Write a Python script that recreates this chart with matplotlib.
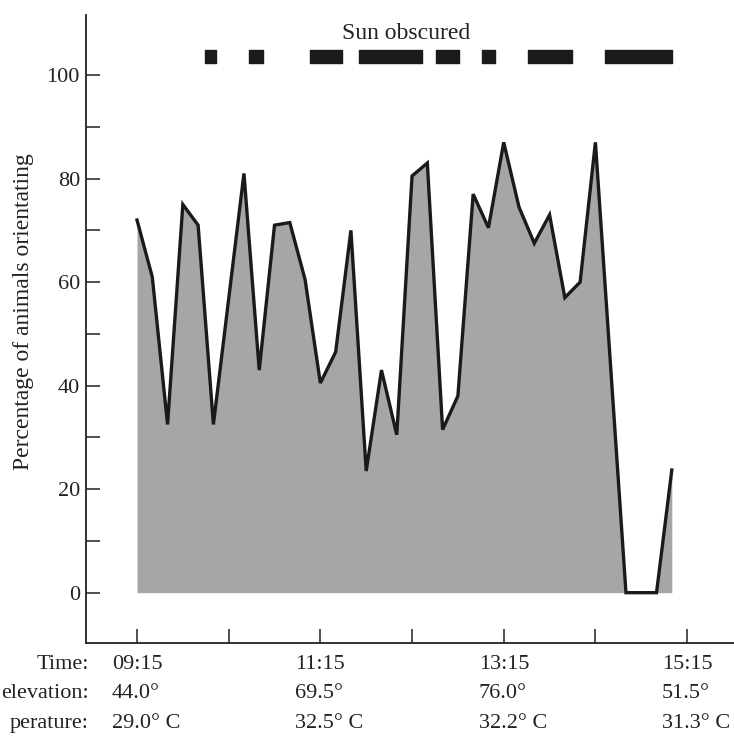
import numpy as np
import matplotlib.pyplot as plt
import matplotlib.transforms as mtransforms

plt.rcParams['font.family'] = ['Liberation Serif', 'DejaVu Serif']

# minutes after 09:15 and percentage orientating
minutes = [0, 10, 20, 30, 40, 50, 70, 80, 90, 100, 110, 120, 130, 140, 150,
           160, 170, 180, 190, 200, 210, 220, 230, 240, 250, 260, 270, 280,
           290, 300, 320, 340, 350]
percent = [72, 61, 32.5, 75, 71, 32.5, 81, 43, 71, 71.5, 60.5, 40.5, 46.5,
           70, 23.5, 43, 30.5, 80.5, 83, 31.5, 38, 77, 70.5, 87, 74.5, 67.5,
           73, 57, 60, 87, 0, 0, 23.7]

# periods with the sun obscured (minutes after 09:15)
obscured_start = [44.5, 73, 113, 145.5, 196, 226, 256, 306]
obscured_end = [52, 82.5, 134, 186.5, 210.5, 234, 284.5, 350]

tick_minutes = [0, 60, 120, 180, 240, 300, 360]
label_minutes = [0, 120, 240, 360]
row_names = ['Time:', 'elevation:', 'perature:']  # as visible in the cropped original
time_labels = ['09:15', '11:15', '13:15', '15:15']
elevation = ['44.0°', '69.5°', '76.0°', '51.5°']
temperature = ['29.0° C', '32.5° C', '32.2° C', '31.3° C']

W, H = 734, 736
fig = plt.figure(figsize=(W / 100, H / 100), dpi=100)
ax = fig.add_axes([85.5 / W, 93 / H, 1 - 85.5 / W, 628 / H])

ax.fill_between(minutes, percent, 0, color='#a6a6a6', lw=0)
ax.plot(minutes, percent, color='#1a1a1a', lw=2.4, solid_joinstyle='miter')

ax.broken_barh([(s, e - s) for s, e in zip(obscured_start, obscured_end)],
               (102.3, 2.5), color='#1a1a1a')
ax.text(176, 107, 'Sun obscured', ha='center', va='baseline', fontsize=17,
        color='#222222')

ax.set_xlim(-33.7, 390.7)
ax.set_ylim(-9.72, 111.6)
ax.set_xticks(tick_minutes)
ax.set_xticklabels([])
ax.set_yticks(np.arange(0, 101, 20))
ax.set_yticks(np.arange(10, 100, 20), minor=True)
ax.tick_params(which='both', direction='in', length=10, width=1.1,
               color='#222222')
ax.tick_params(axis='y', labelsize=16, pad=4, labelcolor='#222222')

for side in ['top', 'right']:
    ax.spines[side].set_visible(False)
for side in ['left', 'bottom']:
    ax.spines[side].set_linewidth(1.3)
    ax.spines[side].set_color('#222222')

fig.text(24 / W, 1 - 312 / H, 'Percentage of animals orientating',
         rotation=90, ha='center', va='center', fontsize=17, color='#222222')

# table of times below the axis
trans = mtransforms.blended_transform_factory(ax.transData, fig.transFigure)
rows = [(time_labels, 669), (elevation, 698), (temperature, 728)]
for name, (vals, base) in zip(row_names, rows):
    yb = 1 - base / H
    fig.text(89 / W, yb, name, ha='right', va='baseline', fontsize=16,
             color='#222222')
    for m, v in zip(label_minutes, vals):
        ax.text(m - 16.4, yb, v, transform=trans, ha='left', va='baseline',
                fontsize=16, color='#222222', clip_on=False)

fig.savefig('out.png', dpi=100)
